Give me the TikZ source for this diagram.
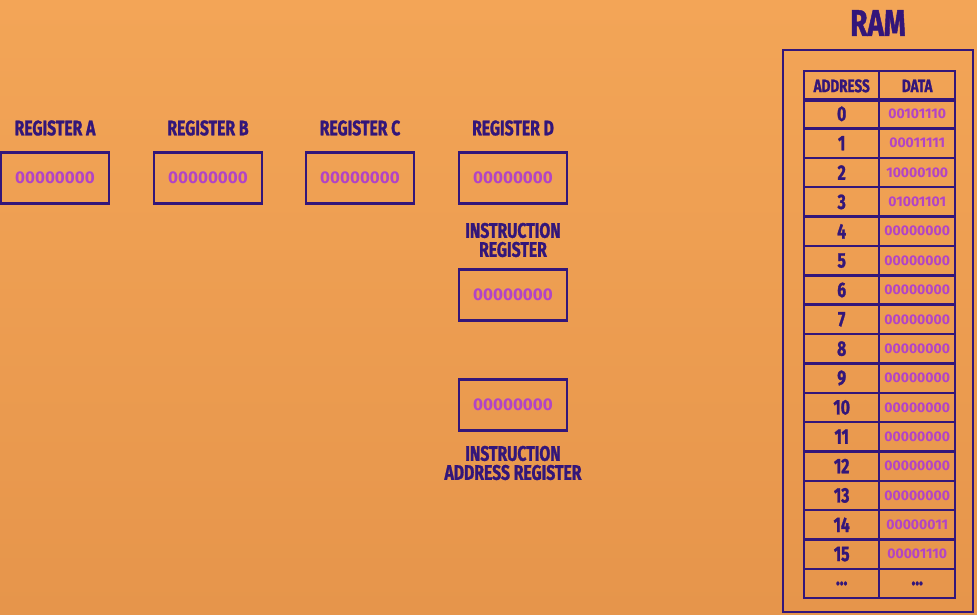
\documentclass[tikz,border=0pt]{standalone}
\usepackage{fontspec}
\newfontfamily\labelfont[FakeStretch=0.75,FakeBold=1.2]{Fira Sans}
\newfontfamily\bitfont{Fira Sans}
\definecolor{bgtop}{HTML}{F3A557}
\definecolor{bgbot}{HTML}{E6954B}
\definecolor{ink}{HTML}{33167A}
\definecolor{bits}{HTML}{B244C6}
\begin{document}
\begin{tikzpicture}[x=1pt,y=-1pt,
  reg/.style={draw=ink, line width=2.8pt, minimum width=108pt, minimum height=51pt, inner sep=0pt, text=bits, font=\bitfont\bfseries\fontsize{17}{17}\selectfont},
  lbl/.style={text=ink, font=\labelfont\bfseries\fontsize{21}{22}\selectfont, inner sep=0pt, align=center},
  cell/.style={draw=ink, line width=2.4pt, minimum width=75pt, minimum height=29.35pt, inner sep=0pt, anchor=north west},
  addr/.style={cell, text=ink, font=\labelfont\bfseries\fontsize{21}{21}\selectfont},
  hdr/.style={cell, text=ink, font=\labelfont\bfseries\fontsize{18}{18}\selectfont},
  dat/.style={cell, text=bits, font=\bitfont\bfseries\fontsize{14}{14}\selectfont}]
\fill[top color=bgtop, bottom color=bgbot] (0,0) rectangle (977,615);
\useasboundingbox (0,0) rectangle (977,615);

% registers
\node[lbl] (la) at (55,128) {REGISTER A};
\node[lbl] (lb) at (208,128) {REGISTER B};
\node[lbl] (lc) at (360,128) {REGISTER C};
\node[lbl] (ld) at (513,128) {REGISTER D};
\node[reg] (ra) at (55,178) {00000000};
\node[reg] (rb) at (208,178) {00000000};
\node[reg] (rc) at (360,178) {00000000};
\node[reg] (rd) at (513,178) {00000000};
\node[lbl] (lir) at (513,240) {INSTRUCTION\\[-3pt]REGISTER};
\node[reg] (ir) at (513,295) {00000000};
\node[reg] (iar) at (513,405) {00000000};
\node[lbl] (liar) at (513,463) {INSTRUCTION\\[-3pt]ADDRESS REGISTER};

% RAM
\node[text=ink, font=\labelfont\bfseries\fontsize{37}{37}\selectfont, inner sep=0pt] (ramt) at (878,23) {RAM};
\draw[ink, line width=2.8pt] (783,50) rectangle (973,612);
\node[hdr] (hA) at (803,70) {ADDRESS};
\node[hdr, minimum width=76pt] (hD) at (878,70) {DATA};
\foreach \i/\v [count=\k from 0] in {0/00101110,1/00011111,2/10000100,3/01001101,4/00000000,5/00000000,6/00000000,7/00000000,8/00000000,9/00000000,10/00000000,11/00000000,12/00000000,13/00000000,14/00000011,15/00001110}{
  \pgfmathsetmacro\yy{98+29.35*\k}
  \node[addr] (a\k) at (803,\yy) {\i};
  \node[dat, minimum width=76pt] (d\k) at (878,\yy) {\v};
}
\node[addr] (a16) at (803,567.6) {...};
\node[addr, minimum width=76pt] (d16) at (878,567.6) {...};
\end{tikzpicture}
\end{document}
